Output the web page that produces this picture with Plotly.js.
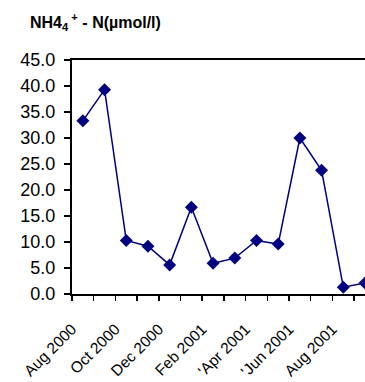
<!DOCTYPE html>
<html>
<head>
<meta charset="utf-8">
<script src="https://cdn.plot.ly/plotly-3.0.1.min.js"></script>
<style>html,body{margin:0;padding:0;background:#fff;}#chart{width:365px;height:382px;}</style>
</head>
<body>
<div id="chart"></div>
<script>
// Monthly samples, Aug 2000 .. Sep 2001
var months = ["Aug 2000","Sep 2000","Oct 2000","Nov 2000","Dec 2000","Jan 2001","Feb 2001","Mar 2001","Apr 2001","May 2001","Jun 2001","Jul 2001","Aug 2001","Sep 2001"];
var nh4 = [33.3, 39.3, 10.3, 9.2, 5.6, 16.7, 5.9, 6.9, 10.3, 9.6, 30.0, 23.8, 1.3, 2.1];
var tickLabels = ["Aug 2000","","Oct 2000","","Dec 2000","","Feb 2001","","'Apr 2001","","'Jun 2001","","Aug 2001",""];

var xPos = months.map(function(m, i){ return i + 0.5; });
var tickPos = tickLabels.map(function(t, i){ return i; });

var trace = {
  x: xPos, y: nh4, text: months,
  type: 'scatter', mode: 'lines+markers',
  line: {color: '#000080', width: 1.5},
  marker: {symbol: 'diamond', size: 10, color: '#000080'},
  cliponaxis: false,
  hoverinfo: 'text+y'
};

var layout = {
  width: 365, height: 382,
  margin: {l: 72, r: 0, t: 60, b: 88},
  paper_bgcolor: '#fff', plot_bgcolor: '#fff',
  font: {family: '"Liberation Sans", Arial, sans-serif', color: '#000', size: 18},
  showlegend: false,
  title: {
    text: 'NH4<sub>4</sub><sup> +</sup> - N(µmol/l)',
    font: {size: 16, family: '"Liberation Sans", Arial, sans-serif', weight: 'bold', color: '#000'},
    xref: 'container', yref: 'container',
    x: 30/365, xanchor: 'left', y: 1 - 22/382, yanchor: 'middle'
  },
  xaxis: {
    type: 'linear', range: [0, 13.5],
    tickmode: 'array', tickvals: tickPos, ticktext: tickLabels,
    tickangle: -45, ticks: 'outside', ticklen: 5, tickwidth: 1.5, tickcolor: '#000',
    ticklabelstandoff: 13,
    showline: true, linecolor: '#000', linewidth: 2, mirror: true,
    showgrid: false, zeroline: false,
    tickfont: {size: 15.5}
  },
  yaxis: {
    range: [0, 45], dtick: 5, tick0: 0, tickformat: '.1f',
    ticks: 'outside', ticklen: 6, tickwidth: 1.5, tickcolor: '#000',
    ticklabelstandoff: 5,
    showline: true, linecolor: '#000', linewidth: 2,
    showgrid: false, zeroline: false,
    tickfont: {size: 18}
  }
};

Plotly.newPlot('chart', [trace], layout, {displayModeBar: false, staticPlot: true});
</script>
</body>
</html>
